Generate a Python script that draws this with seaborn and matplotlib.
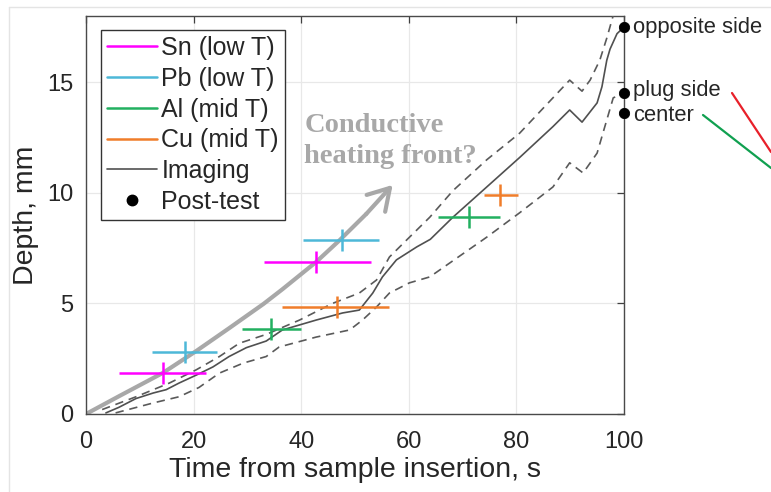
import numpy as np
import pandas as pd
import matplotlib
matplotlib.use("Agg")
import matplotlib.pyplot as plt
import seaborn as sns
from matplotlib.lines import Line2D

# ---------------- data ----------------
materials = ["Sn (low T)", "Pb (low T)", "Al (mid T)", "Cu (mid T)"]
mat_colors = ["#ff00ff", "#4db8d8", "#22b060", "#f07d2a"]

sn_t = [14.3, 42.8]; sn_d = [1.85, 6.88]; sn_tlo = [6.2, 33.0]; sn_thi = [22.3, 53.0]
pb_t = [18.4, 47.5]; pb_d = [2.8, 7.87]; pb_tlo = [12.3, 40.4]; pb_thi = [24.4, 54.4]
al_t = [34.3, 71.1]; al_d = [3.85, 8.9]; al_tlo = [29.0, 65.5]; al_thi = [39.9, 76.9]
cu_t = [46.6, 76.9]; cu_d = [4.85, 9.9]; cu_tlo = [36.5, 74.0]; cu_thi = [56.4, 80.3]
depth_err = 0.5

img_t = [3.7, 6.1, 9.3, 12.5, 14.9, 17.3, 20.5, 23.6, 26.6, 29.8, 33.5, 36.5, 42.8,
         47.7, 50.8, 53.3, 55.1, 57.7, 61.5, 64.0, 68.2, 74.5, 80.6, 86.8, 89.9,
         92.2, 95.0, 95.9, 96.8, 97.4, 98.7, 100.0]
img_d = [0.05, 0.3, 0.7, 0.95, 1.1, 1.4, 1.76, 2.13, 2.6, 3.0, 3.3, 3.8, 4.25,
         4.57, 4.7, 5.47, 6.2, 6.97, 7.56, 7.9, 8.9, 10.27, 11.6, 13.0, 13.75,
         13.2, 14.07, 14.8, 16.0, 16.5, 17.2, 17.5]

upper_t = [3.0, 9.3, 15.5, 20.5, 24.8, 28.5, 33.5, 39.7, 45.8, 50.8, 54.0, 56.4,
           59.6, 63.9, 68.2, 74.5, 80.6, 86.8, 89.9, 92.2, 93.7, 95.5, 96.8, 98.2]
upper_d = [0.2, 0.78, 1.4, 2.0, 2.6, 3.2, 3.6, 4.25, 5.0, 5.47, 6.06, 7.1,
           7.87, 8.9, 10.1, 11.5, 12.7, 14.3, 15.1, 14.6, 15.1, 16.0, 17.0, 18.2]

lower_t = [5.5, 12.5, 17.3, 21.0, 24.8, 29.2, 33.5, 35.9, 42.8, 49.0, 51.4, 54.0,
           56.4, 60.1, 63.9, 74.5, 80.6, 86.8, 89.9, 92.4, 95.0, 96.8, 98.0, 100.0]
lower_d = [0.05, 0.5, 0.78, 1.2, 1.85, 2.3, 2.6, 3.03, 3.48, 3.8, 4.25, 4.84,
           5.47, 5.93, 6.2, 8.0, 9.1, 10.27, 11.36, 10.9, 11.8, 13.3, 14.3, 14.5]

post_labels = ["opposite side", "plug side", "center"]
post_t = [100, 100, 100]
post_d = [17.5, 14.5, 13.6]

front_t = [0, 6.1, 14.3, 20.5, 26.6, 33.0, 36.5, 42.8, 47.1, 52.1, 57.0]
front_d = [0, 0.8, 1.86, 2.85, 3.88, 4.98, 5.64, 6.88, 7.85, 9.05, 10.36]

xticks = [0, 20, 40, 60, 80, 100]
yticks = [0, 5, 10, 15]

# ---------------- style ----------------
sns.set_style("white")
plt.rcParams["font.family"] = ["Liberation Sans", "DejaVu Sans"]
plt.rcParams["text.color"] = "#262626"

W, H = 771, 492
fig = plt.figure(figsize=(W / 100, H / 100), dpi=100)
ax = fig.add_axes([86 / W, 1 - 414 / H, 538 / W, 398 / H])

ax.set_xlim(0, 100)
ax.set_ylim(0, 18)
ax.set_xticks(xticks)
ax.set_yticks(yticks)
ax.grid(True, color="#e8e8e8", lw=0.9)
ax.set_axisbelow(True)
ax.tick_params(direction="in", length=5, width=0.9, colors="#404040",
               labelcolor="#262626", labelsize=17, top=True, right=True)
ax.tick_params(axis="x", pad=12)
ax.tick_params(axis="y", pad=9)
for s in ax.spines.values():
    s.set_color("#4a4a4a")
    s.set_linewidth(1.0)

# conductive heating front arrow
gray = "#a8a8a8"
ax.plot(front_t[:-1], front_d[:-1], color=gray, lw=3, solid_capstyle="round",
        solid_joinstyle="round", zorder=2)
ax.annotate("", xy=(front_t[-1], front_d[-1]), xytext=(front_t[-2], front_d[-2]),
            arrowprops=dict(arrowstyle="->,head_length=0.75,head_width=0.45",
                            color=gray, lw=3, mutation_scale=20,
                            shrinkA=0, shrinkB=0), zorder=2)
ax.text(40.6, 12.76, "Conductive", family=["Liberation Serif", "DejaVu Serif"],
        fontweight="bold", fontsize=20.5, color=gray, va="baseline", ha="left")
ax.text(40.6, 11.36, "heating front?", family=["Liberation Serif", "DejaVu Serif"],
        fontweight="bold", fontsize=20.5, color=gray, va="baseline", ha="left")

# imaging curves
df_img = pd.DataFrame({"t": img_t, "d": img_d})
df_up = pd.DataFrame({"t": upper_t, "d": upper_d})
df_lo = pd.DataFrame({"t": lower_t, "d": lower_d})
sns.lineplot(data=df_img, x="t", y="d", ax=ax, color="#505050", lw=1.2,
             sort=False, estimator=None, zorder=3)
for dfx in (df_up, df_lo):
    sns.lineplot(data=dfx, x="t", y="d", ax=ax, color="#5a5a5a", lw=1.2,
                 sort=False, estimator=None, dashes=False, zorder=3)
for ln in ax.get_lines()[-2:]:
    ln.set_dashes((5, 3.5))

# error-bar crosses
groups = [(sn_t, sn_d, sn_tlo, sn_thi), (pb_t, pb_d, pb_tlo, pb_thi),
          (al_t, al_d, al_tlo, al_thi), (cu_t, cu_d, cu_tlo, cu_thi)]
for (t, d, lo, hi), c in zip(groups, mat_colors):
    t = np.array(t); lo = np.array(lo); hi = np.array(hi)
    ax.errorbar(t, d, xerr=[t - lo, hi - t], yerr=depth_err, fmt="none",
                ecolor=c, elinewidth=1.8, capsize=0, zorder=4)

# post-test points
df_post = pd.DataFrame({"t": post_t, "d": post_d})
sns.scatterplot(data=df_post, x="t", y="d", ax=ax, color="black", s=55,
                edgecolor="black", zorder=6, clip_on=False)
label_offsets = [0.0, 0.12, -0.1]
for lab, d, off in zip(post_labels, post_d, label_offsets):
    ax.text(101.7, d + off, lab, fontsize=15.8, va="center", ha="left",
            clip_on=False, color="#262626")

ax.set_xlabel("Time from sample insertion, s", fontsize=20.5, color="#262626",
              labelpad=3)
ax.set_ylabel("Depth, mm", fontsize=20.5, color="#262626", labelpad=6)

# legend
handles = [Line2D([], [], color=c, lw=1.8) for c in mat_colors]
handles.append(Line2D([], [], color="#505050", lw=1.2))
handles.append(Line2D([], [], color="black", marker="o", ls="none", ms=7.5))
labels = materials + ["Imaging", "Post-test"]
leg = ax.legend(handles, labels, loc="upper left", bbox_to_anchor=(0.028, 0.965),
                borderaxespad=0, fontsize=18, frameon=True, fancybox=False,
                edgecolor="#333333", framealpha=1, handlelength=2.0,
                handletextpad=0.16, labelspacing=0.27, borderpad=0.25)
leg.get_frame().set_linewidth(1.0)

# red / green leader lines on the right
fig.add_artist(Line2D([732 / W, 771 / W], [1 - 93 / H, 1 - 152 / H],
                      color="#e8202a", lw=1.6, transform=fig.transFigure))
fig.add_artist(Line2D([703 / W, 771 / W], [1 - 115 / H, 1 - 168 / H],
                      color="#10a050", lw=1.6, transform=fig.transFigure))
# faint screenshot border
fig.add_artist(Line2D([9 / W, 1], [1 - 7 / H, 1 - 7 / H], color="#e4e4e4",
                      lw=1, transform=fig.transFigure))
fig.add_artist(Line2D([9 / W, 9 / W], [0, 1 - 7 / H], color="#e4e4e4",
                      lw=1, transform=fig.transFigure))

fig.savefig("out.png", dpi=100, facecolor="white")
